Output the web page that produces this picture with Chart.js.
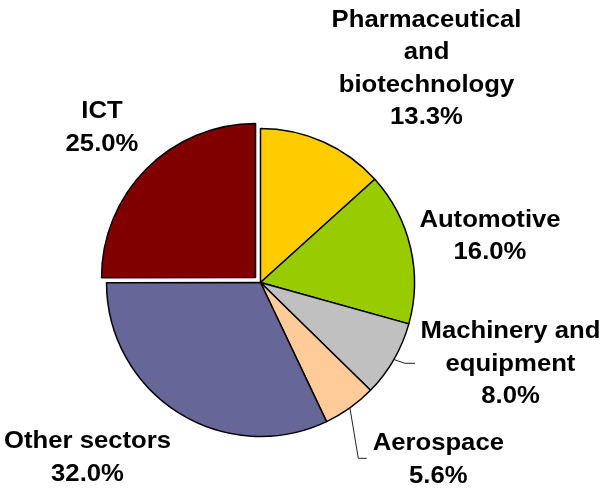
<!DOCTYPE html>
<html><head><meta charset="utf-8">
<script src="https://cdn.jsdelivr.net/npm/chart.js@4.4.1/dist/chart.umd.min.js"></script>
<style>html,body{margin:0;padding:0;background:#fff}#wrap{width:604px;height:489px;position:relative}canvas{display:block}</style>
</head><body><div id="wrap"><canvas id="c" width="604" height="489"></canvas></div>
<script>
// ---- data ----
const categories = ["Pharmaceutical and biotechnology", "Automotive", "Machinery and equipment", "Aerospace", "Other sectors", "ICT"];
const shares = [13.3, 16.0, 8.0, 5.6, 32.0, 25.0];
const labelLines = [["Pharmaceutical", "and", "biotechnology"], ["Automotive"], ["Machinery and", "equipment"], ["Aerospace"], ["Other sectors"], ["ICT"]];

// ---- styles / layout ----
const sliceColors = ["#FFCC00", "#99CC00", "#C0C0C0", "#FFCC99", "#666699", "#800000"];
const sliceOffsets = [0, 0, 0, 0, 0, 28];
const labelFont = 'bold 24px "Liberation Sans", Arial, sans-serif';
const textStretch = 1.07;
const lineGap = 32.5;
// label anchors relative to pie centre: centre-x offset, first baseline offset
const labelPos = [
  {dx: 166, dy: -255.8},
  {dx: 229.5, dy: -55.8},
  {dx: 250, dy: 55.8},
  {dx: 177.8, dy: 167.5},
  {dx: -173, dy: 165.8},
  {dx: -158.5, dy: -164.2}
];
// leader lines: elbow and end relative to pie centre (null = none)
const leaders = [null, null, {ex: 144.5, ey: 80.8, tx: 154.5}, {ex: 97.8, ey: 175.8, tx: 106.2}, null, null];

const labelPlugin = {
  id: 'labels',
  afterDraw(chart) {
    const ctx = chart.ctx;
    const meta = chart.getDatasetMeta(0);
    const arc0 = meta.data[0];
    const cx = arc0.x, cy = arc0.y, r = arc0.outerRadius;
    ctx.save();
    ctx.strokeStyle = '#222';
    ctx.lineWidth = 1;
    meta.data.forEach((arc, i) => {
      const L = leaders[i];
      if (!L) return;
      const mid = (arc.startAngle + arc.endAngle) / 2;
      const sx = cx + Math.cos(mid) * r, sy = cy + Math.sin(mid) * r;
      ctx.beginPath();
      ctx.moveTo(sx, sy);
      ctx.lineTo(cx + L.ex, cy + L.ey);
      ctx.lineTo(cx + L.tx, cy + L.ey);
      ctx.stroke();
    });
    ctx.fillStyle = '#000';
    ctx.font = labelFont;
    ctx.textAlign = 'center';
    ctx.textBaseline = 'alphabetic';
    shares.forEach((v, i) => {
      const lines = labelLines[i].concat([v.toFixed(1) + '%']);
      const p = labelPos[i];
      lines.forEach((t, k) => {
        ctx.save();
        ctx.translate(cx + p.dx, cy + p.dy + k * lineGap);
        ctx.scale(textStretch, 1);
        ctx.fillText(t, 0, 0);
        ctx.restore();
      });
    });
    ctx.restore();
  }
};

new Chart(document.getElementById('c'), {
  type: 'pie',
  data: {
    labels: categories,
    datasets: [{
      data: shares,
      backgroundColor: sliceColors,
      borderColor: '#000',
      borderWidth: 1.5,
      offset: sliceOffsets,
      hoverOffset: 0,
      radius: 154
    }]
  },
  options: {
    responsive: false,
    animation: false,
    devicePixelRatio: 1,
    layout: {padding: {left: 0, right: 83, top: 76, bottom: 0}},
    plugins: {legend: {display: false}, tooltip: {enabled: false}}
  },
  plugins: [labelPlugin]
});
</script>
</body></html>
